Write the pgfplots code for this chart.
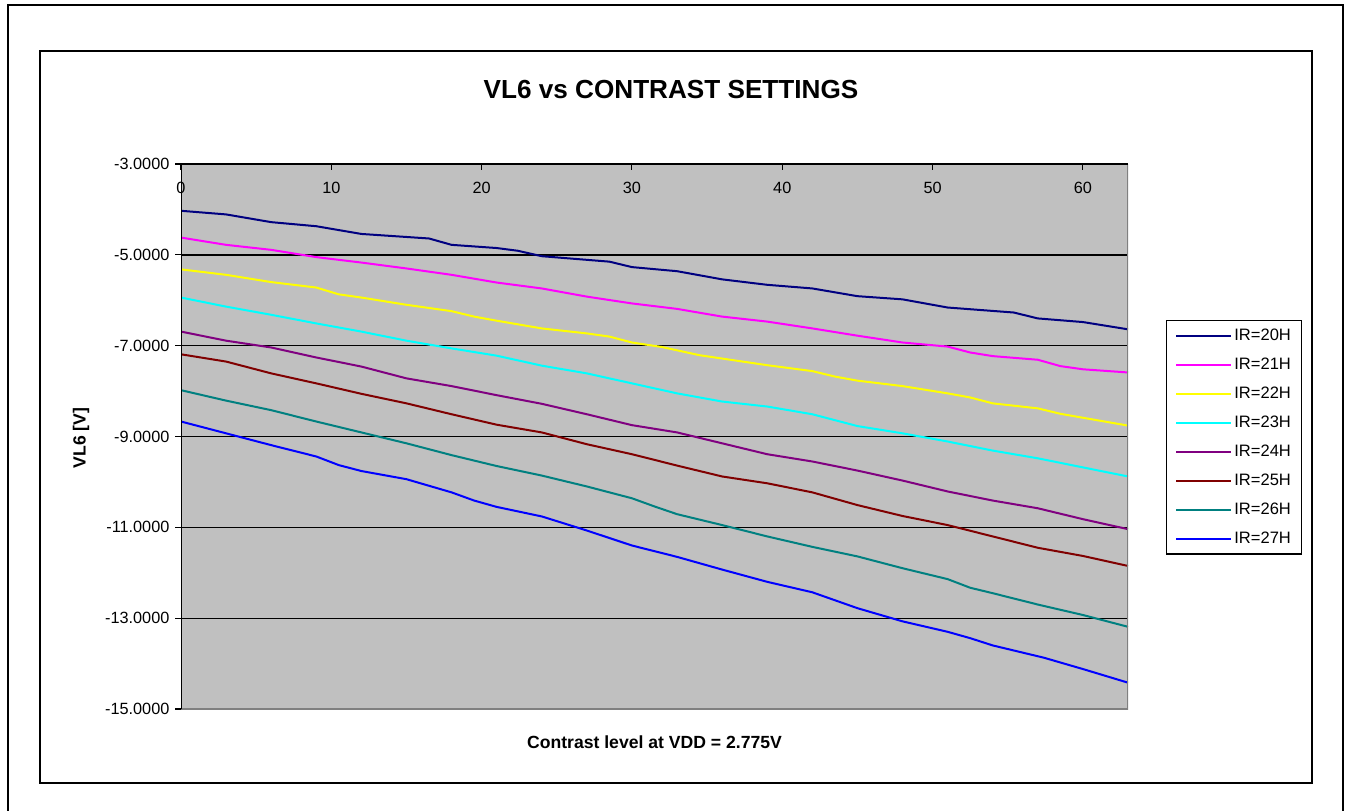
\documentclass[border=0pt]{standalone}
\usepackage{pgfplots}
\pgfplotsset{compat=1.18}
\usepackage{fontspec}
\setmainfont{Liberation Sans}

\definecolor{silver}{HTML}{C0C0C0}
\definecolor{cnavy}{HTML}{000080}
\definecolor{cmagenta}{HTML}{FF00FF}
\definecolor{cyellow}{HTML}{FFFF00}
\definecolor{ccyan}{HTML}{00FFFF}
\definecolor{cpurple}{HTML}{800080}
\definecolor{cdarkred}{HTML}{800000}
\definecolor{cteal}{HTML}{008080}
\definecolor{cblue}{HTML}{0000FF}

\begin{document}
\begin{tikzpicture}
% page and frames in reference pixels (1 px = 0.75pt)
\begin{scope}[x=0.75pt,y=-0.75pt]
\useasboundingbox (0,0) rectangle (1351,810);
\draw[line width=1.5pt] (8,812) -- (8,5) -- (1343,5) -- (1343,812);
\draw[line width=1.5pt] (40,51) rectangle (1312,783);
\node[font=\fontsize{19.6}{23}\selectfont\bfseries] at (671,90) {VL6 vs CONTRAST SETTINGS};
\node[font=\fontsize{13.2}{16}\selectfont\bfseries] at (654.5,742) {Contrast level at VDD = 2.775V};
\node[font=\fontsize{13.2}{16}\selectfont\bfseries,rotate=90] at (81,438) {VL6 [V]};
\end{scope}

\begin{axis}[
    at={(135.75pt,-531.75pt)}, anchor=south west,
    scale only axis,
    width=710.25pt, height=408.75pt,
    xmin=0, xmax=63, ymin=-15, ymax=-3,
    xtick={0,10,...,60},
    ytick={-15,-13,...,-3},
    xtick pos=upper, xticklabel pos=upper,
    ytick pos=left,
    xtick align=inside, ytick align=outside,
    major tick length=4.2pt,
    tick style={black, line width=0.8pt},
    xticklabel style={anchor=north, yshift=-10pt},
    yticklabel style={xshift=-1pt},
    tick label style={font=\fontsize{12.2}{14}\selectfont},
    /pgf/number format/assume math mode=true,
    yticklabel={\pgfmathprintnumber[fixed,fixed zerofill,precision=4]{\tick}},
    ymajorgrids,
    major grid style={black, line width=1pt},
    axis line style={draw=none},
    axis background/.style={fill=silver},
    every axis plot/.append style={line width=1.5pt, no markers},
    legend image code/.code={\draw[#1] (0pt,0pt) -- (41.25pt,0pt);},
    legend style={
        at={(rel axis cs:1.0401,0.7138)}, anchor=north west,
        draw=black, line width=1.1pt,
        inner xsep=6.5pt, inner ysep=0.5pt,
        font=\fontsize{12.4}{14}\selectfont,
        nodes={inner xsep=1.5pt, inner ysep=0pt, minimum height=21.75pt},
        row sep=0pt,
    },
    legend cell align=left,
]
\addplot[cnavy] coordinates {(0,-4.03) (3,-4.11) (6,-4.28) (9,-4.37) (12,-4.54) (16.5,-4.64) (18,-4.78) (21,-4.85) (22.4,-4.91) (24,-5.03) (28.5,-5.15) (30,-5.27) (33,-5.36) (36,-5.54) (39,-5.66) (42,-5.74) (45,-5.91) (48,-5.98) (51,-6.16) (55.4,-6.27) (57,-6.40) (60,-6.48) (63,-6.64)};
\addplot[cmagenta] coordinates {(0,-4.62) (3,-4.78) (6,-4.89) (9,-5.05) (12,-5.17) (15,-5.30) (18,-5.44) (21,-5.61) (24,-5.74) (27,-5.92) (30,-6.07) (33,-6.19) (36,-6.36) (39,-6.47) (42,-6.62) (45,-6.78) (48,-6.93) (51,-7.02) (52.5,-7.15) (54,-7.23) (57,-7.31) (58.5,-7.45) (60,-7.52) (63,-7.59)};
\addplot[cyellow] coordinates {(0,-5.32) (3,-5.44) (6,-5.60) (9,-5.72) (10.5,-5.87) (12,-5.94) (15,-6.10) (18,-6.24) (19.5,-6.36) (21,-6.45) (24,-6.62) (27,-6.73) (28.5,-6.80) (30,-6.93) (32,-7.03) (34.5,-7.21) (39,-7.43) (42,-7.56) (43.5,-7.68) (45,-7.77) (48,-7.89) (51,-8.05) (52.5,-8.14) (54,-8.27) (57,-8.38) (58.5,-8.50) (63,-8.76)};
\addplot[ccyan] coordinates {(0,-5.94) (3,-6.14) (6,-6.32) (9,-6.51) (12,-6.69) (15,-6.89) (18,-7.06) (21,-7.22) (24,-7.44) (27,-7.61) (30,-7.83) (33,-8.05) (36,-8.23) (39,-8.34) (42,-8.51) (45,-8.77) (48,-8.93) (51,-9.11) (54,-9.31) (57,-9.48) (60,-9.68) (63,-9.88)};
\addplot[cpurple] coordinates {(0,-6.69) (3,-6.89) (6,-7.04) (9,-7.26) (12,-7.46) (15,-7.72) (18,-7.89) (21,-8.09) (24,-8.28) (27,-8.51) (30,-8.75) (33,-8.91) (36,-9.15) (39,-9.39) (42,-9.55) (45,-9.75) (48,-9.97) (51,-10.21) (54,-10.41) (57,-10.58) (60,-10.82) (63,-11.04)};
\addplot[cdarkred] coordinates {(0,-7.19) (3,-7.35) (6,-7.61) (9,-7.83) (12,-8.06) (15,-8.27) (18,-8.51) (21,-8.74) (24,-8.91) (27,-9.17) (30,-9.39) (33,-9.64) (36,-9.88) (39,-10.03) (42,-10.23) (45,-10.51) (48,-10.75) (51,-10.95) (54,-11.20) (57,-11.45) (60,-11.63) (63,-11.85)};
\addplot[cteal] coordinates {(0,-7.98) (3,-8.21) (6,-8.42) (9,-8.67) (12,-8.91) (15,-9.15) (18,-9.41) (21,-9.65) (24,-9.86) (27,-10.10) (30,-10.36) (31.5,-10.54) (33,-10.71) (36,-10.95) (39,-11.20) (42,-11.43) (45,-11.64) (48,-11.90) (51,-12.14) (52.5,-12.33) (54,-12.45) (57,-12.70) (60,-12.93) (63,-13.19)};
\addplot[cblue] coordinates {(0,-8.67) (3,-8.93) (6,-9.19) (9,-9.44) (10.5,-9.63) (12,-9.76) (15,-9.94) (18,-10.23) (19.5,-10.41) (21,-10.55) (24,-10.76) (27,-11.07) (30,-11.40) (33,-11.65) (36,-11.93) (39,-12.20) (42,-12.43) (45,-12.78) (48,-13.07) (51,-13.30) (52.5,-13.44) (54,-13.60) (57.4,-13.87) (60,-14.12) (63,-14.42)};
\legend{IR=20H,IR=21H,IR=22H,IR=23H,IR=24H,IR=25H,IR=26H,IR=27H}
% plot area border: axes black, frame grey
\draw[gray, line width=1pt] (rel axis cs:0,0) -- (rel axis cs:1,0) -- (rel axis cs:1,1);
\draw[black, line width=1pt] (rel axis cs:0,0) -- (rel axis cs:0,1) -- (rel axis cs:1,1);
\end{axis}
\end{tikzpicture}
\end{document}
